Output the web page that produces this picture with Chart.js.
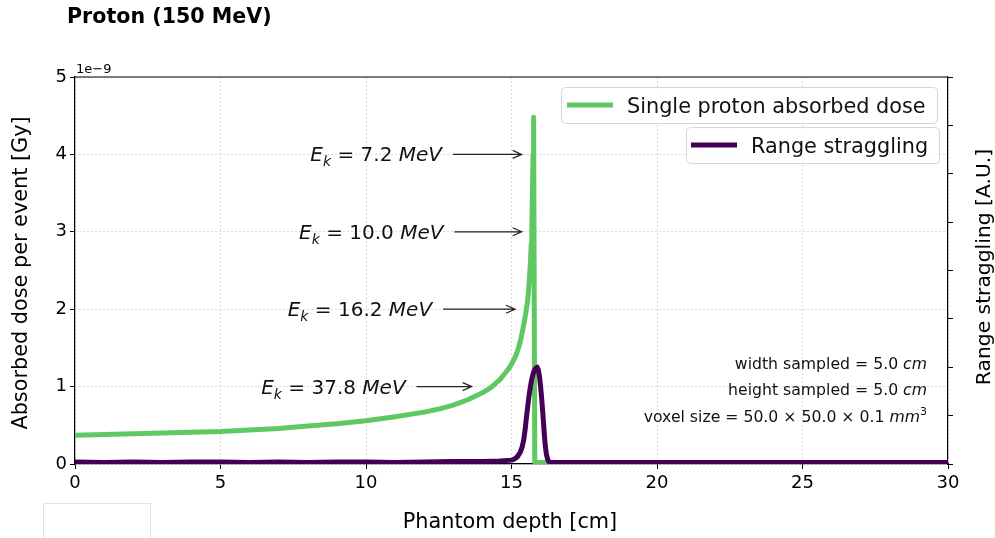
<!DOCTYPE html>
<html>
<head>
<meta charset="utf-8">
<script src="https://cdn.jsdelivr.net/npm/chart.js@4.4.0/dist/chart.umd.min.js"></script>
<style>
  body { margin: 0; background: #fff; }
  #wrap { width: 995px; height: 538px; }
</style>
</head>
<body>
<div id="wrap"><canvas id="chart" width="995" height="538"></canvas></div>
<script>
// depth-dose curve (dose in units of 1e-9 Gy)
const depthDose = [0, 1, 2, 3, 4, 5, 6, 7, 8, 9, 10, 11, 12, 12.5, 13, 13.5, 14, 14.3, 14.6, 14.75,
  14.9, 15.0, 15.1, 15.2, 15.3, 15.38, 15.45, 15.5, 15.55, 15.58, 15.62, 15.65, 15.68, 15.7, 15.72, 15.74,
  15.76, 15.8, 16.3];
const doseValues = [0.37, 0.38, 0.39, 0.40, 0.41, 0.42, 0.44, 0.46, 0.49, 0.52, 0.56, 0.61, 0.67, 0.71, 0.76, 0.83, 0.92, 0.99, 1.09, 1.16,
  1.23, 1.29, 1.36, 1.45, 1.58, 1.72, 1.86, 1.97, 2.1, 2.22, 2.42, 2.6, 2.85, 3.1, 3.5, 4.0,
  4.48, 0.02, 0.02];

// range straggling (arbitrary units, right axis)
const depthStrag = [0, 1, 2, 3, 4, 5, 6, 7, 8, 9, 10, 11, 12, 13, 14, 14.6, 15.0, 15.1, 15.2, 15.3,
  15.37, 15.42, 15.47, 15.52, 15.56, 15.6, 15.65, 15.69, 15.74, 15.78, 15.83, 15.88, 15.92, 15.96, 16.0, 16.03,
  16.07, 16.1, 16.13, 16.16, 16.2, 16.24, 16.28, 16.35, 18, 20, 22, 24, 26, 28, 30];
const stragValues = [0.04, 0.03, 0.04, 0.03, 0.04, 0.04, 0.03, 0.04, 0.03, 0.04, 0.04, 0.03, 0.04, 0.05, 0.05, 0.06, 0.08, 0.1, 0.15, 0.24,
  0.36, 0.5, 0.72, 1.0, 1.2, 1.4, 1.6, 1.74, 1.86, 1.93, 1.98, 2.0, 1.95, 1.82, 1.6, 1.4,
  1.1, 0.85, 0.6, 0.38, 0.2, 0.1, 0.05, 0.03, 0.03, 0.03, 0.03, 0.03, 0.03, 0.03, 0.03];

// annotations: energy label, arrow tip (data), right end of the text (data x)
const annotEnergy = ["7.2", "10.0", "16.2", "37.8"];
const annotTipX = [15.35, 15.35, 15.12, 13.63];
const annotTipY = [4.0, 3.0, 2.0, 1.0];
const annotTextX = [12.61, 12.66, 12.27, 11.36];

const xTicks = [0, 5, 10, 15, 20, 25, 30];
const yTicks = [0, 1, 2, 3, 4, 5];

const labelDose = "Single proton absorbed dose";
const labelStrag = "Range straggling";

const GREEN = "#5ec962";
const PURPLE = "#440154";
const FONT = "'DejaVu Sans', sans-serif";

function toPoints(xs, ys) {
  return xs.map((x, i) => ({ x: x, y: ys[i] }));
}

// draw text made of several font runs, left aligned at x
function drawRich(ctx, parts, x, y) {
  parts.forEach((p) => {
    ctx.font = p.font;
    ctx.fillText(p.t, x, y + (p.dy || 0));
    x += ctx.measureText(p.t).width;
  });
}
function richWidth(ctx, parts) {
  let w = 0;
  parts.forEach((p) => {
    ctx.font = p.font;
    w += ctx.measureText(p.t).width;
  });
  return w;
}

function legendBox(ctx, x1, y1, x2, y2, color, label, lineX) {
  ctx.save();
  ctx.beginPath();
  ctx.roundRect(x1 + 0.5, y1 + 0.5, x2 - x1, y2 - y1, 4);
  ctx.fillStyle = "rgba(255,255,255,0.85)";
  ctx.fill();
  ctx.strokeStyle = "#d6d6d6";
  ctx.lineWidth = 1;
  ctx.stroke();
  const cy = (y1 + y2) / 2;
  ctx.beginPath();
  ctx.moveTo(lineX, cy);
  ctx.lineTo(lineX + 46, cy);
  ctx.strokeStyle = color;
  ctx.lineWidth = 5;
  ctx.stroke();
  ctx.fillStyle = "#111";
  ctx.font = "20.8px " + FONT;
  ctx.textBaseline = "alphabetic";
  ctx.fillText(label, lineX + 60, cy + 7.5);
  ctx.restore();
}

const extras = {
  id: "extras",
  afterDraw(chart) {
    const ctx = chart.ctx;
    const a = chart.chartArea;
    const xs = chart.scales.x;
    const ys = chart.scales.y;
    ctx.save();

    // top spine
    ctx.strokeStyle = "#000";
    ctx.lineWidth = 1.2;
    ctx.beginPath();
    ctx.moveTo(a.left, a.top);
    ctx.lineTo(a.right, a.top);
    ctx.stroke();

    // title
    ctx.fillStyle = "#000";
    ctx.textBaseline = "middle";
    ctx.textAlign = "left";
    ctx.font = "bold 20.6px " + FONT;
    ctx.fillText("Proton (150 MeV)", 67, 18);

    // offset text
    ctx.font = "13px " + FONT;
    ctx.fillText("1e\u22129", 76, 70);

    // axis titles
    ctx.font = "20.8px " + FONT;
    ctx.textAlign = "center";
    ctx.textBaseline = "alphabetic";
    ctx.fillText("Phantom depth [cm]", 510, 528);
    ctx.textBaseline = "middle";
    ctx.save();
    ctx.translate(22, 273);
    ctx.rotate(-Math.PI / 2);
    ctx.fillText("Absorbed dose per event [Gy]", 0, 0);
    ctx.restore();
    ctx.save();
    ctx.translate(985, 267);
    ctx.rotate(-Math.PI / 2);
    ctx.font = "20.3px " + FONT;
    ctx.fillText("Range straggling [A.U.]", 0, 0);
    ctx.restore();

    // energy annotations with arrows
    ctx.textAlign = "left";
    ctx.textBaseline = "alphabetic";
    ctx.fillStyle = "#111";
    annotEnergy.forEach((e, i) => {
      const tx = xs.getPixelForValue(annotTipX[i]);
      const ty = ys.getPixelForValue(annotTipY[i]);
      const right = xs.getPixelForValue(annotTextX[i]);
      const parts = [
        { t: "E", font: "italic 20px " + FONT },
        { t: "k", font: "italic 14px " + FONT, dy: 5 },
        { t: " = " + e + " ", font: "20px " + FONT },
        { t: "MeV", font: "italic 20px " + FONT },
      ];
      const w = richWidth(ctx, parts);
      drawRich(ctx, parts, right - w, ty + 7);
      const tail = right + 11;
      ctx.strokeStyle = "#222";
      ctx.lineWidth = 1.2;
      ctx.beginPath();
      ctx.moveTo(tail, ty);
      ctx.lineTo(tx, ty);
      ctx.moveTo(tx - 9, ty - 4);
      ctx.lineTo(tx, ty);
      ctx.lineTo(tx - 9, ty + 4);
      ctx.stroke();
    });

    // sampling info box
    const infoRight = 927;
    const f = "15.7px " + FONT;
    const fi = "italic 15.7px " + FONT;
    const lines = [
      [{ t: "width sampled = 5.0 ", font: f }, { t: "cm", font: fi }],
      [{ t: "height sampled = 5.0 ", font: f }, { t: "cm", font: fi }],
      [
        { t: "voxel size = 50.0 \u00d7 50.0 \u00d7 0.1 ", font: f },
        { t: "mm", font: fi },
        { t: "3", font: "11px " + FONT, dy: -7 },
      ],
    ];
    const lineY = [363, 389, 416];
    ctx.fillStyle = "#111";
    lines.forEach((parts, i) => {
      const w = richWidth(ctx, parts);
      drawRich(ctx, parts, infoRight - w, lineY[i] + 5.5);
    });

    // legends (two separate boxes)
    legendBox(ctx, 561, 87, 937, 123, GREEN, labelDose, 567);
    legendBox(ctx, 686, 127, 939, 163, PURPLE, labelStrag, 691);

    // blank box at lower left
    ctx.strokeStyle = "#e4e4e4";
    ctx.lineWidth = 1;
    ctx.strokeRect(43.5, 503.5, 107, 40);
    ctx.restore();
  },
};

const gridCommon = {
  color: "#cfcfcf",
  lineWidth: 0.8,
  drawTicks: true,
  tickLength: 5,
  tickColor: "#000",
  tickWidth: 1,
  tickBorderDash: [],
};

new Chart(document.getElementById("chart"), {
  type: "line",
  data: {
    datasets: [
      {
        label: labelDose,
        data: toPoints(depthDose, doseValues),
        borderColor: GREEN,
        borderWidth: 5,
        pointRadius: 0,
        tension: 0,
        borderJoinStyle: "round",
        borderCapStyle: "round",
        yAxisID: "y",
        order: 2,
      },
      {
        label: labelStrag,
        data: toPoints(depthStrag, stragValues),
        borderColor: PURPLE,
        borderWidth: 5,
        pointRadius: 0,
        tension: 0,
        borderJoinStyle: "round",
        borderCapStyle: "round",
        yAxisID: "y2",
        order: 1,
      },
    ],
  },
  options: {
    responsive: false,
    animation: false,
    layout: { padding: { top: 77, left: 0, right: 0, bottom: 0 } },
    plugins: { legend: { display: false }, tooltip: { enabled: false } },
    scales: {
      x: {
        type: "linear",
        min: 0,
        max: 30,
        afterBuildTicks: (s) => { s.ticks = xTicks.map((v) => ({ value: v })); },
        afterFit: (s) => { s.height = 74; },
        ticks: { color: "#000", font: { family: FONT, size: 18 }, padding: 4, maxRotation: 0 },
        grid: gridCommon,
        border: { display: true, color: "#000", width: 1.2, dash: [2, 2] },
      },
      y: {
        position: "left",
        min: 0,
        max: 5,
        afterBuildTicks: (s) => { s.ticks = yTicks.map((v) => ({ value: v })); },
        afterFit: (s) => { s.width = 75; },
        ticks: { color: "#000", font: { family: FONT, size: 18 }, padding: 3 },
        grid: gridCommon,
        border: { display: true, color: "#000", width: 1.2, dash: [2, 2] },
      },
      y2: {
        position: "right",
        min: 0,
        max: 8,
        ticks: { stepSize: 1, callback: () => "" },
        afterFit: (s) => { s.width = 47; },
        grid: Object.assign({}, gridCommon, { drawOnChartArea: false }),
        border: { display: true, color: "#000", width: 1.2 },
      },
    },
  },
  plugins: [extras],
});
</script>
</body>
</html>
